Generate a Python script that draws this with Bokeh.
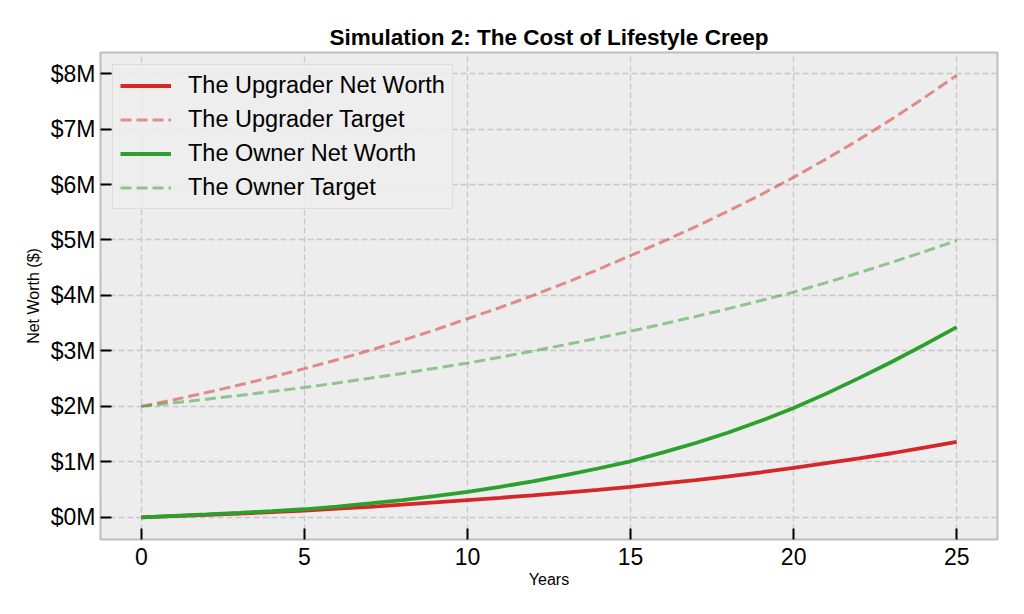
from bokeh.plotting import figure
from bokeh.models import FixedTicker, Range1d, Legend, LegendItem
from bokeh.embed import file_html
from bokeh.resources import INLINE

years = list(range(26))

upgrader_net_worth = [0.000, 0.022, 0.045, 0.069, 0.094, 0.120, 0.155, 0.190, 0.228, 0.268,
                      0.310, 0.352, 0.397, 0.445, 0.496, 0.550, 0.610, 0.672, 0.740, 0.812,
                      0.890, 0.975, 1.062, 1.155, 1.255, 1.360]
upgrader_target = [2.000, 2.121, 2.249, 2.384, 2.528, 2.680, 2.840, 3.009, 3.188, 3.378,
                   3.580, 3.783, 3.998, 4.225, 4.466, 4.720, 4.973, 5.240, 5.522, 5.818,
                   6.130, 6.460, 6.809, 7.176, 7.563, 7.970]
owner_net_worth = [0.000, 0.025, 0.052, 0.081, 0.112, 0.145, 0.193, 0.250, 0.310, 0.380,
                   0.460, 0.550, 0.650, 0.760, 0.880, 1.010, 1.170, 1.340, 1.530, 1.740,
                   1.970, 2.230, 2.510, 2.800, 3.110, 3.430]
owner_target = [2.000, 2.064, 2.130, 2.198, 2.268, 2.340, 2.422, 2.507, 2.594, 2.686,
                2.780, 2.886, 2.997, 3.112, 3.231, 3.355, 3.486, 3.621, 3.762, 3.909,
                4.060, 4.231, 4.409, 4.595, 4.788, 4.990]

x_ticks = [0, 5, 10, 15, 20, 25]
y_ticks = [0, 1, 2, 3, 4, 5, 6, 7, 8]
y_tick_labels = ["$0M", "$1M", "$2M", "$3M", "$4M", "$5M", "$6M", "$7M", "$8M"]

title_text = "Simulation 2: The Cost of Lifestyle Creep"
series_names = ["The Upgrader Net Worth", "The Upgrader Target",
                "The Owner Net Worth", "The Owner Target"]

RED = "#d62728"
GREEN = "#2ca02c"
FONT = "Liberation Sans"

p = figure(width=1016, height=606, output_backend="svg", toolbar_location=None,
           x_range=Range1d(-1.25, 26.25), y_range=Range1d(-0.4, 8.38),
           min_border_left=100, min_border_right=19, min_border_top=52, min_border_bottom=67,
           title=title_text)

p.background_fill_color = "#ededed"
p.border_fill_color = "white"
p.outline_line_color = "#bdbdbd"
p.outline_line_width = 2

p.title.align = "center"
p.title.text_font = FONT
p.title.text_font_size = "22.5px"
p.title.text_font_style = "bold"
p.title.text_color = "black"
p.title.standoff = 5

r1 = p.line(years, upgrader_net_worth, line_color=RED, line_width=3.8)
r2 = p.line(years, upgrader_target, line_color=RED, line_width=3, line_alpha=0.5, line_dash="11 5")
r3 = p.line(years, owner_net_worth, line_color=GREEN, line_width=3.8)
r4 = p.line(years, owner_target, line_color=GREEN, line_width=3, line_alpha=0.5, line_dash="11 5")

for ax in (p.xaxis[0], p.yaxis[0]):
    ax.axis_line_color = None
    ax.major_tick_in = 11
    ax.major_tick_out = 0
    ax.major_tick_line_color = "black"
    ax.major_tick_line_width = 2
    ax.minor_tick_line_color = None
    ax.major_label_text_font = FONT
    ax.major_label_text_font_size = "23px"
    ax.major_label_text_color = "black"
    ax.axis_label_text_font = FONT
    ax.axis_label_text_font_size = "16px"
    ax.axis_label_text_font_style = "normal"
    ax.axis_label_text_color = "black"

p.xaxis.ticker = FixedTicker(ticks=x_ticks)
p.yaxis.ticker = FixedTicker(ticks=y_ticks)
p.yaxis.major_label_overrides = {t: lab for t, lab in zip(y_ticks, y_tick_labels)}
p.xaxis.axis_label = "Years"
p.yaxis.axis_label = "Net Worth ($)"
p.xaxis.major_label_standoff = 8
p.yaxis.major_label_standoff = 5
p.xaxis.axis_label_standoff = 3
p.yaxis.axis_label_standoff = 6

for g in (p.xgrid[0], p.ygrid[0]):
    g.grid_line_color = "#c8c8c8"
    g.grid_line_width = 1.3
    g.grid_line_dash = "6 3"

legend = Legend(items=[LegendItem(label=n, renderers=[r]) for n, r in zip(series_names, [r1, r2, r3, r4])],
                location="top_left")
legend.margin = 12
legend.padding = 7
legend.spacing = 7
legend.glyph_width = 51
legend.glyph_height = 27
legend.label_height = 27
legend.label_standoff = 17
legend.label_text_font = FONT
legend.label_text_font_size = "23.5px"
legend.label_text_color = "black"
legend.background_fill_color = "#ededed"
legend.background_fill_alpha = 0.9
legend.border_line_color = "#cccccc"
legend.border_line_width = 1.5
p.add_layout(legend)

open("out.html", "w").write(file_html(p, INLINE))
